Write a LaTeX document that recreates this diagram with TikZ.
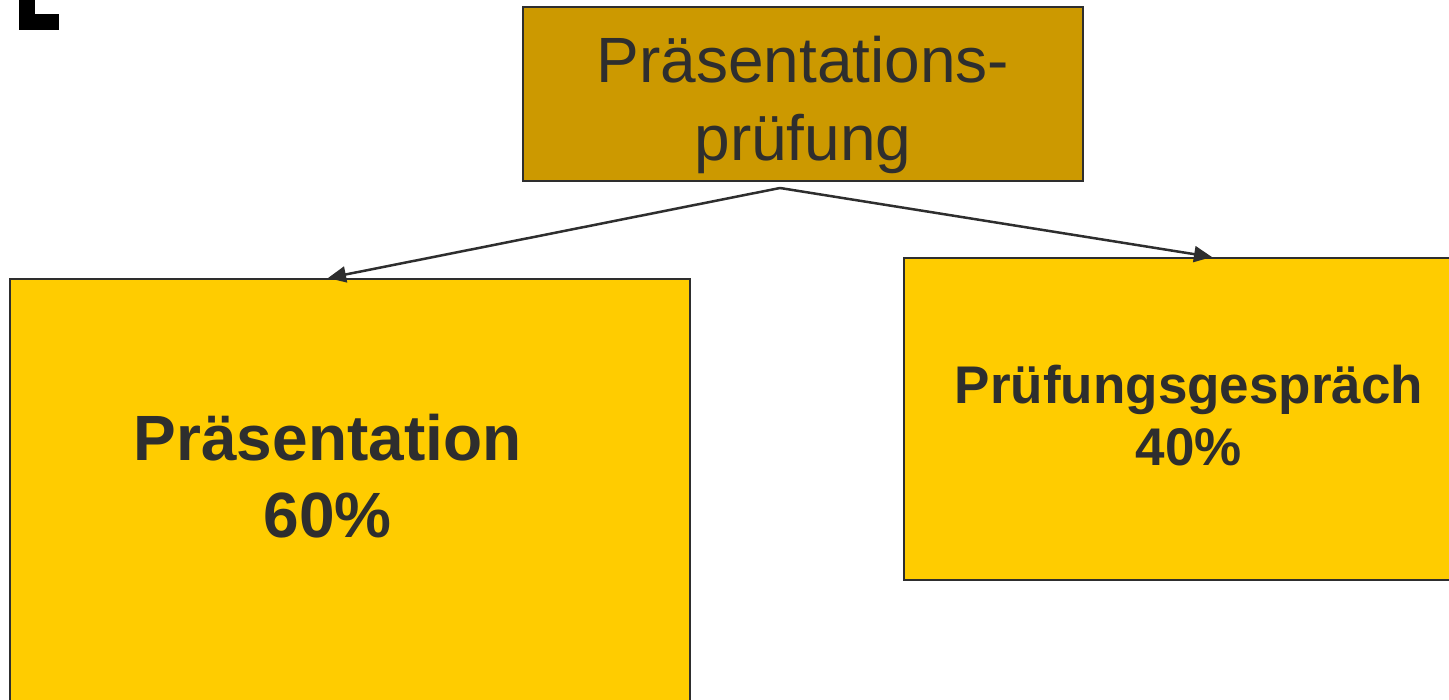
\documentclass[tikz,border=0pt]{standalone}
\usepackage{fontspec}
\setmainfont{Liberation Sans}
\usetikzlibrary{arrows.meta}
\definecolor{darkgold}{HTML}{CC9900}
\definecolor{gold}{HTML}{FFCC00}
\definecolor{ink}{HTML}{2E2E2E}
\begin{document}
\begin{tikzpicture}[x=1pt,y=-1pt,
  box/.style={draw=ink,line width=2pt,inner sep=0pt},
  lbl/.style={text=ink,align=center,inner sep=0pt,anchor=base},
  conn/.style={draw=ink,line width=2.5pt,-{Triangle[length=18pt,width=16pt]}}]
\useasboundingbox (0,0) rectangle (1449,700);
\fill[black] (19,0) rectangle (35,30);
\fill[black] (19,14) rectangle (59,30);
\node[box,fill=darkgold,minimum width=560pt,minimum height=174pt] (top) at (803,94) {};
\node[box,fill=gold,minimum width=680pt,minimum height=441pt] (lbox) at (350,499.5) {};
\node[box,fill=gold,minimum width=576pt,minimum height=322pt] (rbox) at (1192,419) {};
\node[lbl,font=\fontsize{64}{78}\selectfont] (ttext) at (803,161) {Präsentations-\\prüfung};
\node[lbl,font=\fontsize{64}{77}\selectfont\bfseries] (ltext) at (327.5,537) {Präsentation\\60\%};
\node[lbl,font=\fontsize{53}{62}\selectfont\bfseries] (rtext) at (1189,465) {Prüfungsgespräch\\40\%};
\coordinate (apex) at (780,188);
\coordinate (ltip) at (328,278);
\coordinate (rtip) at (1212,257);
\draw[conn] (apex) -- (ltip);
\draw[conn] (apex) -- (rtip);
\end{tikzpicture}
\end{document}
